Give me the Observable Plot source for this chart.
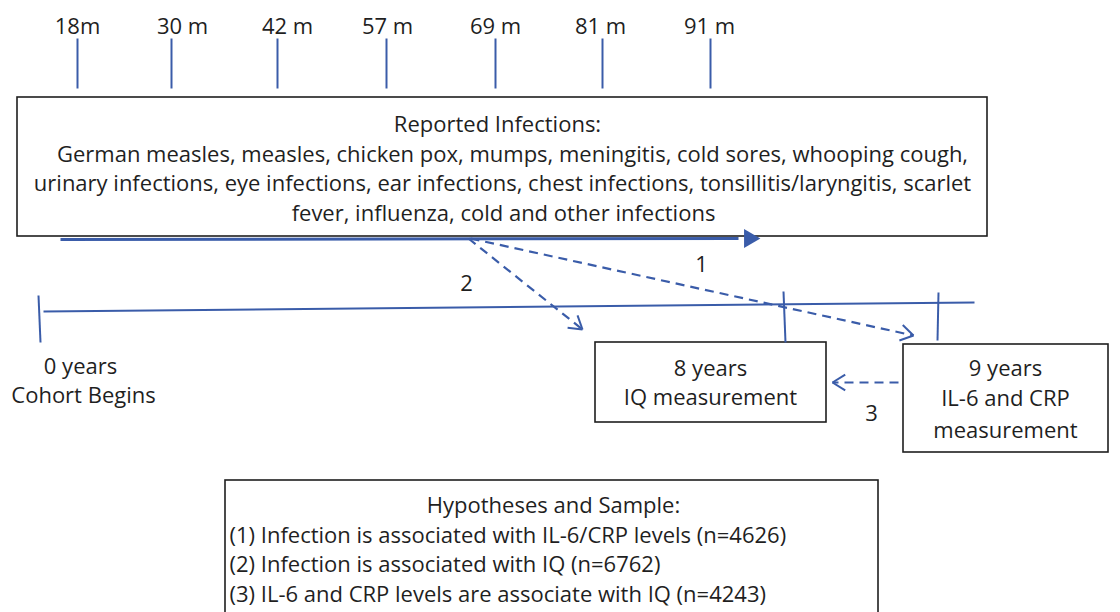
<!DOCTYPE html>
<html>
<head>
<meta charset="utf-8">
<script src="https://cdn.jsdelivr.net/npm/d3@7"></script>
<script src="https://cdn.jsdelivr.net/npm/@observablehq/plot@0.6"></script>
<style>
  html, body { margin: 0; padding: 0; background: #fff; }
  #chart svg { display: block; }
</style>
</head>
<body>
<div id="chart"></div>
<script>
// ---------- data ----------
const monthLabels = ["18m", "30 m", "42 m", "57 m", "69 m", "81 m", "91 m"];
const monthLabelX = [77, 182, 287, 387, 495, 600, 709];
const monthTickX  = [77, 171, 277, 386, 495, 602, 710];
const monthTickTop = 38, monthTickBottom = 88, monthLabelY = 26;

const infectionLines = [
  "Reported Infections:",
  "German measles, measles, chicken pox, mumps, meningitis, cold sores, whooping cough,",
  "urinary infections, eye infections, ear infections, chest infections, tonsillitis/laryngitis, scarlet",
  "fever, influenza, cold and other infections"
];
const infectionLineX = [497, 512, 502, 503];
const infectionLineY = [124, 154, 183, 213];

const boxes = [
  {name: "infections", x1: 17, y1: 97, x2: 987, y2: 236},
  {name: "iq", x1: 595, y1: 342, x2: 826, y2: 422},
  {name: "il6", x1: 903, y1: 344, x2: 1108, y2: 452},
  {name: "hyp", x1: 225, y1: 480, x2: 878, y2: 620}
];

const boxTexts = [
  {text: "8 years", x: 710, y: 368},
  {text: "IQ measurement", x: 710, y: 397},
  {text: "9 years", x: 1005, y: 368},
  {text: "IL-6 and CRP", x: 1005, y: 398},
  {text: "measurement", x: 1005, y: 430},
  {text: "0 years", x: 80, y: 366},
  {text: "Cohort Begins", x: 83, y: 395},
  {text: "Hypotheses and Sample:", x: 553, y: 505}
];

const hypotheses = [
  "(1) Infection is associated with IL-6/CRP levels (n=4626)",
  "(2) Infection is associated with IQ (n=6762)",
  "(3) IL-6 and CRP levels are associate with IQ (n=4243)"
];
const hypX = 229;
const hypY = [535, 564, 594];

// timeline segments (solid blue)
const timeline = [
  {x1: 43, y1: 311, x2: 974, y2: 302},   // main cohort line
  {x1: 38, y1: 295, x2: 40, y2: 342},    // 0 years tick
  {x1: 783, y1: 291, x2: 785, y2: 342},  // 8 years tick
  {x1: 938, y1: 292, x2: 937, y2: 340}   // 9 years tick
];

// solid exposure arrow
const exposure = {x1: 60, y1: 239, x2: 738, y2: 238, tipX: 749};

// dashed relationship arrows
const paths = [
  {label: "1", x1: 470, y1: 238, x2: 913, y2: 335, lx: 701, ly: 264},
  {label: "2", x1: 468, y1: 238, x2: 582, y2: 329, lx: 466, ly: 283},
  {label: "3", x1: 898, y1: 382, x2: 832, y2: 382, lx: 871, ly: 413}
];

// ---------- styling ----------
const blue = "#3a5ca9";
const ink = "#1f1f1f";
const font = "Open Sans";
const fs = 22;

// arrowhead wings for the dashed arrows (open V heads, solid)
function wings(d, len = 15, ang = 32) {
  const a = Math.atan2(d.y2 - d.y1, d.x2 - d.x1);
  const out = [];
  for (const s of [1, -1]) {
    const b = a + Math.PI - s * ang * Math.PI / 180;
    out.push({x1: d.x2, y1: d.y2, x2: d.x2 + len * Math.cos(b), y2: d.y2 + len * Math.sin(b)});
  }
  return out;
}
const wingSegs = paths.flatMap(d => wings(d));

const chart = Plot.plot({
  width: 1120,
  height: 612,
  margin: 0,
  x: {domain: [0, 1120], range: [0, 1120], axis: null},
  y: {domain: [0, 612], range: [0, 612], axis: null},
  style: {fontFamily: font, background: "#fff"},
  marks: [
    Plot.link(monthTickX, {x1: d => d, x2: d => d, y1: monthTickTop, y2: monthTickBottom, stroke: blue, strokeWidth: 2}),
    Plot.text(monthLabels, {x: (d, i) => monthLabelX[i], y: monthLabelY, text: d => d, fontSize: fs, fill: ink, fontFamily: font}),
    Plot.rect(boxes, {x1: "x1", x2: "x2", y1: "y1", y2: "y2", fill: "white", stroke: ink, strokeWidth: 1.6}),
    Plot.text(infectionLines, {x: (d, i) => infectionLineX[i], y: (d, i) => infectionLineY[i], text: d => d, fontSize: fs, fill: ink, fontFamily: font}),
    Plot.text(boxTexts, {x: "x", y: "y", text: "text", fontSize: fs, fill: ink, fontFamily: font}),
    Plot.text(hypotheses, {x: hypX, y: (d, i) => hypY[i], text: d => d, textAnchor: "start", fontSize: fs, fill: ink, fontFamily: font}),
    Plot.link(timeline, {x1: "x1", y1: "y1", x2: "x2", y2: "y2", stroke: blue, strokeWidth: 2}),
    Plot.link([exposure], {x1: "x1", y1: "y1", x2: "x2", y2: "y2", stroke: blue, strokeWidth: 3}),
    Plot.dot([exposure], {x: "tipX", y: "y2", symbol: "triangle", rotate: 90, r: 7, fill: blue, stroke: "none"}),
    Plot.link(paths, {x1: "x1", y1: "y1", x2: "x2", y2: "y2", stroke: blue, strokeWidth: 2.2, strokeDasharray: "9,6"}),
    Plot.link(wingSegs, {x1: "x1", y1: "y1", x2: "x2", y2: "y2", stroke: blue, strokeWidth: 2}),
    Plot.text(paths, {x: "lx", y: "ly", text: "label", fontSize: fs, fill: ink, fontFamily: font})
  ]
});
document.getElementById("chart").appendChild(chart);
</script>
</body>
</html>
